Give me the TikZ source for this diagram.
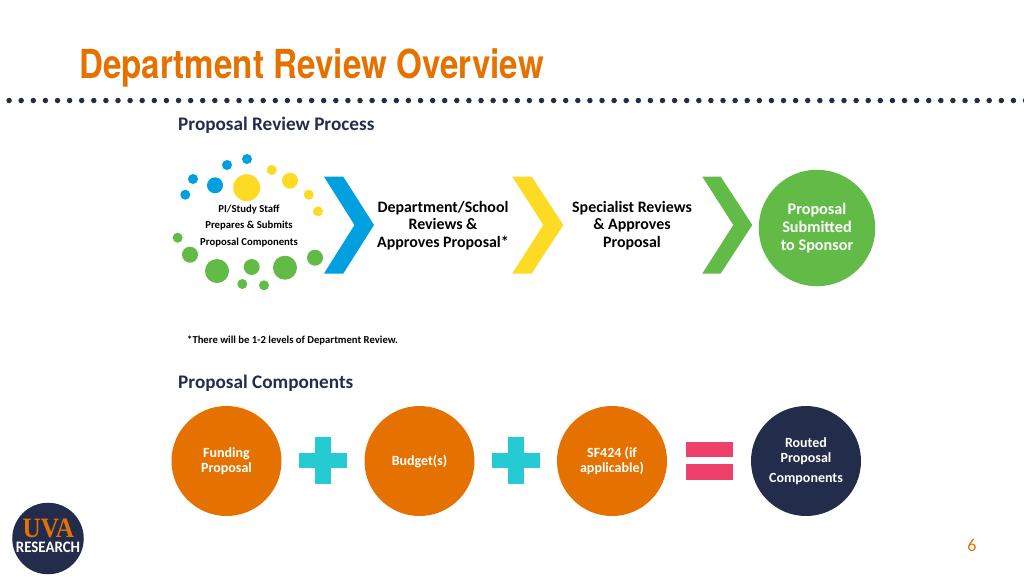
\documentclass[tikz,border=0pt]{standalone}
\usepackage{fontspec}
\setmainfont{Carlito}
\newfontfamily\titlefont[FakeStretch=0.83]{TeX Gyre Heros}
\newfontfamily\logofont[FakeStretch=0.9]{Liberation Serif}
\newfontfamily\researchfont[FakeStretch=0.93]{Carlito}
\definecolor{uvaorange}{HTML}{E57200}
\definecolor{uvanavy}{HTML}{232D4B}
\definecolor{dotblue}{HTML}{009FDF}
\definecolor{dotyellow}{HTML}{FDDA24}
\definecolor{dotgreen}{HTML}{62BB46}
\definecolor{plusteal}{HTML}{25CAD3}
\definecolor{equalspink}{HTML}{EF3F6B}
\tikzset{
    px/.style={x=1pt, y=-1pt},
    heading/.style={anchor=west, text=uvanavy, font=\fontsize{19.2}{21}\selectfont\bfseries},
    steptext/.style={align=center, inner sep=0pt, font=\fontsize{15.9}{17.6}\selectfont\bfseries},
    stafftext/.style={align=center, inner sep=0pt, font=\fontsize{10.7}{16.4}\selectfont\bfseries},
    round/.style={circle, minimum size=#1, inner sep=0pt, align=center, text=white},
    comptext/.style={font=\fontsize{14}{15.5}\selectfont\bfseries},
}
\begin{document}
\begin{tikzpicture}[px]
    \useasboundingbox (0,0) rectangle (1024,576);

    % Title and dotted rule
    \node[anchor=west, inner sep=0pt, text=uvaorange, font=\titlefont\fontsize{40}{42}\selectfont\bfseries] (title) at (79,68) {Department Review Overview};
    \draw[uvanavy, line width=5.5, line cap=round, dash pattern=on 0pt off 12.1pt] (-3,100.5) -- (1030,100.5);

    % Process heading
    \node[heading, inner sep=0pt] (process) at (178,125.5) {Proposal Review Process};

    % Dots round the staff text
    \fill[dotblue] (227,165) circle (5) (247,159) circle (5) (193,179) circle (5)
        (185.3,194.7) circle (5) (215,185.3) circle (8);
    \fill[dotyellow] (246.7,187.7) circle (13.5) (271.7,170) circle (5) (290,180.7) circle (8)
        (308.7,194.7) circle (5) (318,211.3) circle (5);
    \fill[dotgreen] (177.7,237.7) circle (5) (190,254.7) circle (8) (217,271) circle (12)
        (251.7,267) circle (8) (285,267.7) circle (12) (315,257.7) circle (8)
        (242.3,284) circle (5) (264,285.3) circle (5);
    \node[stafftext] (staff) at (249,226) {PI/Study Staff\\Prepares \& Submits\\Proposal Components};

    % Chevrons
    \fill[dotblue] (324,176.7) -- (343.3,176.7) -- (374,225) -- (343.3,273.5) -- (324,273.5) -- (354.5,225) -- cycle;
    \fill[dotyellow] (512.3,176.7) -- (531.7,176.7) -- (563.3,225) -- (531.7,273.5) -- (512.3,273.5) -- (543.3,225) -- cycle;
    \fill[dotgreen] (702.3,176.7) -- (720.7,176.7) -- (752.3,225) -- (720.7,273.5) -- (702.3,273.5) -- (733.3,225) -- cycle;

    % Review steps
    \node[steptext] (department) at (443,225.5) {Department/School\\Reviews \&\\Approves Proposal*};
    \node[steptext] (specialist) at (632,225.5) {Specialist Reviews\\\& Approves\\Proposal};
    \node[round=116.5, fill=dotgreen, font=\fontsize{16.2}{17.6}\selectfont\bfseries] (submitted) at (817,228) {Proposal\\Submitted\\to Sponsor};

    % Footnote
    \node[anchor=west, inner sep=0pt, font=\fontsize{10.65}{12}\selectfont\bfseries] (note) at (187,341) {*There will be 1-2 levels of Department Review.};

    % Components
    \node[heading, inner sep=0pt] (components) at (178,383.5) {Proposal Components};
    \node[round=110, fill=uvaorange, comptext] (funding) at (226.5,461) {Funding\\Proposal};
    \node[round=110, fill=uvaorange, comptext] (budget) at (419.5,461) {Budget(s)};
    \node[round=110, fill=uvaorange, comptext] (sf) at (612,461) {SF424 (if\\applicable)};
    \node[round=110, fill=uvanavy, comptext] (routed) at (806,461) {Routed\\Proposal\\[4pt]Components};

    % Plus and equals signs
    \foreach \cx in {323,516.2} {
        \fill[plusteal] (\cx-24,453) rectangle (\cx+24,468.3);
        \fill[plusteal] (\cx-7.8,437) rectangle (\cx+7.8,484.3);
    }
    \fill[equalspink] (685.7,441.7) rectangle (733,457);
    \fill[equalspink] (685.7,464.3) rectangle (733,479.7);

    % Logo and page number
    \node[circle, fill=uvanavy, minimum size=71.5, inner sep=0pt] (logo) at (48,538.5) {};
    \node[anchor=base, inner sep=0pt, text=uvaorange, font=\logofont\fontsize{28}{28}\selectfont\bfseries] (uva) at (48.3,537) {UVA};
    \node[anchor=base, inner sep=0pt, text=white, font=\researchfont\fontsize{16}{16}\selectfont\bfseries] (research) at (48,552.5) {RESEARCH};
    \node[inner sep=0pt, text=uvaorange, font=\fontsize{18}{20}\selectfont] (page) at (972,545.5) {6};
\end{tikzpicture}
\end{document}
